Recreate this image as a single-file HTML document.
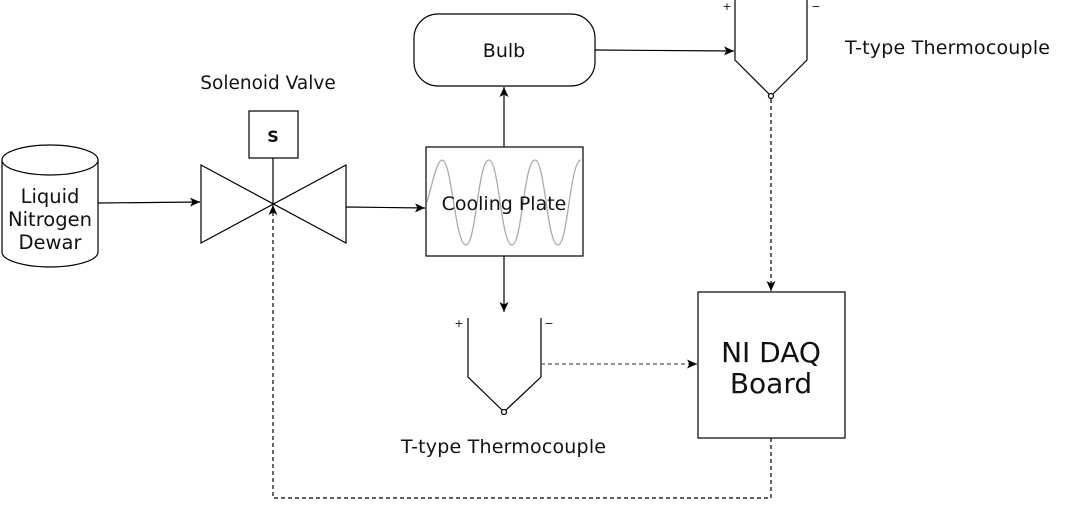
<!DOCTYPE html>
<html><head><meta charset="utf-8"><style>
html,body{margin:0;padding:0;background:#fff;}
svg{display:block;}
text{font-family:"DejaVu Sans","Liberation Sans",sans-serif;fill:#111;}
</style></head><body>
<svg width="1073" height="510" viewBox="0 0 1073 510" xmlns="http://www.w3.org/2000/svg">
<defs>
<marker id="ar" markerWidth="12" markerHeight="12" refX="10" refY="5.5" orient="auto" markerUnits="userSpaceOnUse">
<path d="M0,1 L10,5.5 L0,10 L2.5,5.5 Z" fill="#000"/>
</marker>
</defs>
<g stroke="#000" stroke-width="1.2" fill="none">
<path d="M2,160 L2,252 A48,15 0 0 0 98,252 L98,160" fill="#fff"/>
<ellipse cx="50" cy="160" rx="48" ry="15" fill="#fff"/>
<path d="M201,165 L201,243 L346,165 L346,243 Z" fill="#fff"/>
<rect x="249" y="111" width="49" height="47" fill="#fff"/>
<line x1="273" y1="158" x2="273" y2="204"/>
<rect x="414" y="14" width="181" height="72" rx="24" ry="24" fill="#fff"/>
<rect x="426" y="147" width="157" height="109" fill="#fff"/>
<rect x="698" y="292" width="147" height="146" fill="#fff"/>
<path d="M735,0 L735,60 L769,94 M773,94 L807,60 L807,0"/>
<circle cx="771" cy="96" r="2.5" fill="#fff"/>
<path d="M468,318 L468,377 L502,410 M506,410 L541,377 L541,318"/>
<circle cx="504" cy="412" r="2.5" fill="#fff"/>
<path d="M98,203 L200,202" marker-end="url(#ar)"/>
<path d="M346,207 L425,208" marker-end="url(#ar)"/>
<path d="M504,147 L504,87" marker-end="url(#ar)"/>
<path d="M504,256 L504,312" marker-end="url(#ar)"/>
<path d="M595,50 L734,51" marker-end="url(#ar)"/>
<path d="M771,99 L771,291" stroke-dasharray="4,3" marker-end="url(#ar)"/>
<path d="M541,364 L697,364" stroke-dasharray="4,3" stroke="#555" marker-end="url(#ar)"/>
<path d="M771,438 L771,498 L273,498 L273,205" stroke-dasharray="4,3" marker-end="url(#ar)"/>
</g>
<path d="M427,202 C432,185 437,160 442,160 C452,160 455,245 466,245 C476,245 478,160 489,160 C499,160 501,245 512,245 C522,245 524,160 535,160 C545,160 547,245 558,245 C568,245 570,160 581,160" stroke="#aaa" stroke-width="1.3" fill="none"/>
<text x="50" y="203" font-size="19.5" text-anchor="middle">Liquid</text>
<text x="50" y="226" font-size="19.5" text-anchor="middle">Nitrogen</text>
<text x="50" y="249" font-size="19.5" text-anchor="middle">Dewar</text>
<text x="268" y="89" font-size="18.5" text-anchor="middle">Solenoid Valve</text>
<text x="273" y="142" font-size="16" font-weight="bold" text-anchor="middle">S</text>
<text x="504" y="57" font-size="19" text-anchor="middle">Bulb</text>
<text x="504" y="210" font-size="19" text-anchor="middle">Cooling Plate</text>
<text x="845" y="54" font-size="19" textLength="205">T-type Thermocouple</text>
<text x="401" y="453" font-size="19" textLength="205">T-type Thermocouple</text>
<text x="771" y="362" font-size="28" text-anchor="middle">NI DAQ</text>
<text x="771" y="393" font-size="28" text-anchor="middle">Board</text>
<text x="727" y="10" font-size="11" text-anchor="middle">+</text>
<text x="816" y="10" font-size="11" text-anchor="middle">−</text>
<text x="459" y="327" font-size="11" text-anchor="middle">+</text>
<text x="549" y="327" font-size="11" text-anchor="middle">−</text>
</svg>
</body></html>
